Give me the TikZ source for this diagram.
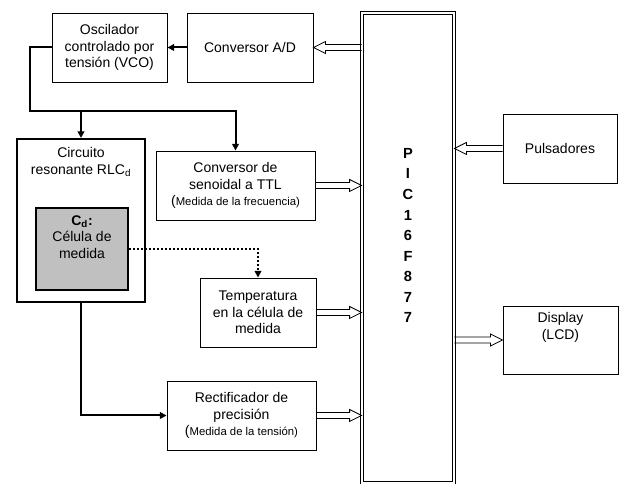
\documentclass[tikz,border=0pt]{standalone}
\usepackage{fontspec}
\setmainfont{Liberation Sans}
\usetikzlibrary{arrows.meta, positioning, calc}

\definecolor{cellgray}{RGB}{192,192,192}
\newcommand{\txtsize}{\fontsize{10.5}{12.5}\selectfont}
\newcommand{\notesize}{\fontsize{8.5}{12.5}\selectfont}

\tikzset{
    block/.style={draw, line width=0.7pt, minimum height=51.75pt, inner sep=2pt, align=center, font=\txtsize},
    wire/.style={line width=1.5pt, -{Triangle[length=5pt,width=5pt]}},
    hollow/.style={line width=0.6pt, to path={
        let \p1=(\tikztostart), \p2=(\tikztotarget),
            \p3=($(\tikztotarget)!9pt!(\tikztostart)$) in
        (\x1,\y1+2.25pt) -- (\x3,\y1+2.25pt) -- (\x3,\y1+4.5pt) -- (\x2,\y2)
        -- (\x3,\y1-4.5pt) -- (\x3,\y1-2.25pt) -- (\x1,\y1-2.25pt)}}
}

\begin{document}
\begin{tikzpicture}[x=0.75pt, y=-0.75pt, line join=miter]

    \useasboundingbox (0,0) rectangle (619,484);

    % Top row
    \node[block, minimum width=86.25pt] (vco) at (109.5,47.5) {Oscilador\\controlado por\\tensión (VCO)};
    \node[block, minimum width=94.5pt] (adc) at (250,47.5) {Conversor A/D};

    % Microcontroller
    \node[draw, double, line width=0.6pt, double distance=1.2pt, minimum width=69pt, minimum height=352.5pt] (pic) at (408,248) {};
    \node[font=\bfseries\fontsize{11}{15.4}\selectfont, align=center] (pictext) at (408,235.5) {P\\I\\C\\1\\6\\F\\8\\7\\7};

    % Resonant circuit and cell
    \node[draw, line width=1.5pt, minimum width=96pt, minimum height=122.25pt] (rlc) at (81,220.5) {};
    \node[font=\txtsize, align=center, anchor=north, inner sep=0pt] (rlctext) at (81,147) {Circuito\\resonante RLC\textsubscript{d}};
    \node[draw, line width=1.5pt, fill=cellgray, minimum width=69pt, minimum height=61.5pt] (cell) at (82,249) {};
    \node[font=\txtsize, align=center, anchor=north, inner sep=0pt] (celltext) at (82,215) {\textbf{C\textsubscript{d}:}\\Célula de\\medida};

    % Measurement blocks
    \node[block, minimum width=119.25pt] (ttl) at (235.5,185.5) {Conversor de\\senoidal a TTL\\{\txtsize(}{\notesize Medida de la frecuencia)}};
    \node[block, minimum width=87pt] (temp) at (258,312.5) {Temperatura\\en la célula de\\medida};
    \node[block, minimum width=111.75pt] (rect) at (241.5,415.5) {Rectificador de\\precisión\\{\txtsize(}{\notesize Medida de la tensión)}};

    % Right side
    \node[block, minimum width=85.5pt] (puls) at (560,148.5) {Pulsadores};
    \node[block, minimum width=86.25pt, minimum height=51pt] (disp) at (560.5,340) {};
    \node[font=\txtsize, align=center, anchor=north, inner sep=0pt] (disptext) at (560.5,312) {Display\\(LCD)};

    % Signal path
    \coordinate (bus) at (30,111);
    \draw[wire] (adc.west) -- (vco.east);
    \draw[wire] (vco.west) -| (bus) -| (ttl.north);
    \draw[wire] (rlc.north |- bus) -- (rlc.north);
    \draw[wire] (rlc.south) |- (rect.west);
    \draw[wire, dash pattern=on 1.5pt off 1.5pt] (cell.east) -| (temp.north);

    % Buses to and from the PIC
    \foreach \src in {ttl, temp, rect}{
        \draw[hollow] (\src.east) to (pic.west |- \src.east);
    }
    \draw[hollow] (pic.west |- adc.east) to (adc.east);
    \draw[hollow] (puls.west) to (pic.east |- puls.west);
    \draw[hollow] (pic.east |- disp.west) to (disp.west);

\end{tikzpicture}
\end{document}
